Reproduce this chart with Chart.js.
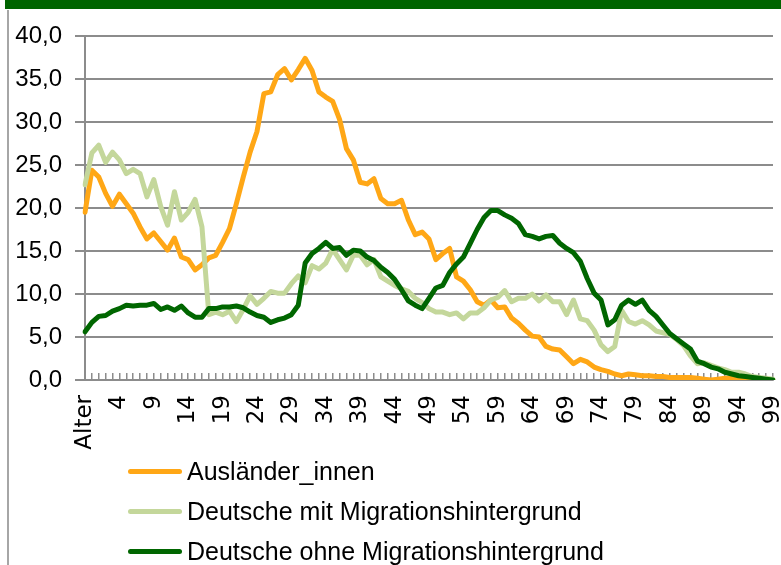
<!DOCTYPE html>
<html>
<head>
<meta charset="utf-8">
<script src="https://cdn.jsdelivr.net/npm/chart.js@4"></script>
<style>
  html, body { margin: 0; padding: 0; background: #fff; width: 781px; height: 565px; overflow: hidden; }
  #bar { position: absolute; left: 5px; top: 0; width: 776px; height: 9px; background: #006400; }
  #frame { position: absolute; left: 7px; top: 10px; width: 780px; height: 560px; border-left: 2px solid #a6a6a6; }
  #chart { position: absolute; left: 0; top: 0; }
  #legend { position: absolute; left: 128px; top: 451px; font: 25px 'Liberation Sans', Arial, sans-serif; color: #000; }
  .item { height: 40px; display: flex; align-items: center; white-space: nowrap; }
  .sw { width: 54px; height: 5px; border-radius: 3px; margin-right: 5px; }
</style>
</head>
<body>
<div id="bar"></div>
<div id="frame"></div>
<canvas id="chart" width="781" height="565"></canvas>
<div id="legend"></div>
<script>
// x categories: "Alter" followed by ages 0..99
const ages = ['Alter'].concat(Array.from({ length: 100 }, (_, i) => String(i)));

const auslaender = [
  19.5, 24.4, 23.6, 21.7, 20.2, 21.6, 20.5, 19.4, 17.8, 16.4,
  17.1, 16.1, 15.1, 16.5, 14.3, 14.0, 12.8, 13.4, 14.2, 14.5,
  16.0, 17.6, 20.5, 23.6, 26.5, 28.9, 33.3, 33.5, 35.5, 36.2,
  34.9, 36.1, 37.4, 36.0, 33.5, 32.9, 32.4, 30.3, 26.9, 25.6,
  23.0, 22.8, 23.4, 21.1, 20.5, 20.5, 20.9, 18.6, 16.9, 17.2,
  16.4, 14.0, 14.7, 15.3, 12.0, 11.5, 10.5, 9.1, 8.7, 9.3,
  8.4, 8.5, 7.2, 6.6, 5.8, 5.1, 5.0, 3.9, 3.6, 3.5,
  2.7, 1.9, 2.4, 2.1, 1.5, 1.2, 1.0, 0.7, 0.5, 0.7,
  0.6, 0.5, 0.5, 0.4, 0.4, 0.3, 0.3, 0.3, 0.3, 0.2,
  0.1, 0.0, 0.1, 0.2, 0.2, 0.2, 0.1, 0.1, 0.0, 0.0,
  0.0
];
const mitMigration = [
  22.7, 26.4, 27.3, 25.3, 26.5, 25.6, 24.0, 24.5, 24.0, 21.3,
  23.3, 20.2, 18.0, 21.9, 18.6, 19.5, 21.0, 17.8, 7.6, 7.9,
  7.6, 8.0, 6.8, 8.2, 9.8, 8.8, 9.5, 10.3, 10.1, 10.1,
  11.2, 12.1, 11.3, 13.3, 12.9, 13.6, 15.2, 14.0, 12.8, 14.5,
  14.5, 13.4, 14.0, 12.0, 11.5, 11.0, 10.6, 10.3, 9.5, 9.0,
  8.3, 7.9, 7.9, 7.6, 7.8, 7.1, 7.8, 7.8, 8.4, 9.3,
  9.6, 10.4, 9.1, 9.5, 9.5, 10.0, 9.2, 9.9, 9.1, 9.1,
  7.6, 9.3, 7.1, 6.9, 5.8, 4.1, 3.3, 3.9, 8.1, 6.8,
  6.5, 6.9, 6.4, 5.7, 5.5, 5.3, 4.7, 4.0, 2.8, 1.9,
  2.0, 1.7, 1.4, 1.2, 0.9, 0.9, 0.7, 0.4, 0.3, 0.2,
  0.1
];
const ohneMigration = [
  5.6, 6.7, 7.4, 7.5, 8.0, 8.3, 8.7, 8.6, 8.7, 8.7,
  8.9, 8.2, 8.5, 8.1, 8.6, 7.8, 7.3, 7.3, 8.3, 8.3,
  8.5, 8.5, 8.6, 8.4, 7.9, 7.5, 7.3, 6.7, 7.0, 7.2,
  7.6, 8.7, 13.6, 14.7, 15.3, 16.0, 15.3, 15.4, 14.5, 15.1,
  15.0, 14.3, 13.9, 13.1, 12.5, 11.7, 10.5, 9.2, 8.7, 8.3,
  9.5, 10.7, 11.0, 12.5, 13.5, 14.3, 15.9, 17.5, 18.9, 19.7,
  19.7, 19.2, 18.8, 18.2, 16.9, 16.7, 16.4, 16.7, 16.8, 15.9,
  15.3, 14.8, 13.8, 11.8, 10.1, 9.3, 6.4, 7.0, 8.7, 9.3,
  8.8, 9.3, 8.1, 7.4, 6.4, 5.4, 4.8, 4.2, 3.6, 2.2,
  1.9, 1.5, 1.3, 0.9, 0.7, 0.5, 0.4, 0.3, 0.2, 0.1,
  0.0
];

const seriesNames = ['Ausländer_innen', 'Deutsche mit Migrationshintergrund', 'Deutsche ohne Migrationshintergrund'];
const seriesColors = ['#FFA716', '#C4D79B', '#006600'];
const seriesData = [auslaender, mitMigration, ohneMigration];

const gridGray = '#8c8c8c';

const chart = new Chart(document.getElementById('chart'), {
    type: 'line',
    data: {
        labels: ages,
        datasets: seriesData.map((d, i) => ({
            label: seriesNames[i],
            data: d,
            borderColor: seriesColors[i],
            backgroundColor: seriesColors[i],
            order: 2 - i
        }))
    },
    options: {
        responsive: false,
        animation: false,
        layout: { padding: { top: 36, right: 8, left: 0, bottom: 0 } },
        plugins: { legend: { display: false }, tooltip: { enabled: false } },
        elements: {
            point: { radius: 0 },
            line: { borderWidth: 5, tension: 0, borderJoinStyle: 'round', borderCapStyle: 'round' }
        },
        scales: {
            x: {
                grid: { drawOnChartArea: false, drawTicks: true, tickLength: -7, color: gridGray, lineWidth: 1.5 },
                border: { color: gridGray, width: 2 },
                ticks: {
                    autoSkip: false, maxRotation: 90, minRotation: 90, padding: 22, color: '#000',
                    font: { family: 'DejaVu Sans', size: 23 },
                    callback: (v, i) => (i % 5 === 0 ? ages[i] : '')
                },
                afterFit: s => { s.height = 185; s.paddingLeft = 0; s.paddingRight = 0; }
            },
            y: {
                min: 0, max: 40,
                ticks: {
                    stepSize: 5, padding: 13, color: '#000',
                    font: { family: 'Liberation Sans', size: 24 },
                    callback: v => v.toFixed(1).replace('.', ',')
                },
                grid: { color: gridGray, lineWidth: 2, tickLength: 10 },
                border: { color: gridGray, width: 2 },
                afterFit: s => { s.width = 85; }
            }
        }
    }
});

// legend as a vertical list under the axis
const legend = document.getElementById('legend');
seriesNames.forEach((name, i) => {
    const row = document.createElement('div');
    row.className = 'item';
    row.innerHTML = '<span class="sw" style="background:' + seriesColors[i] + '"></span><span>' + name + '</span>';
    legend.appendChild(row);
});
</script>
</body>
</html>
